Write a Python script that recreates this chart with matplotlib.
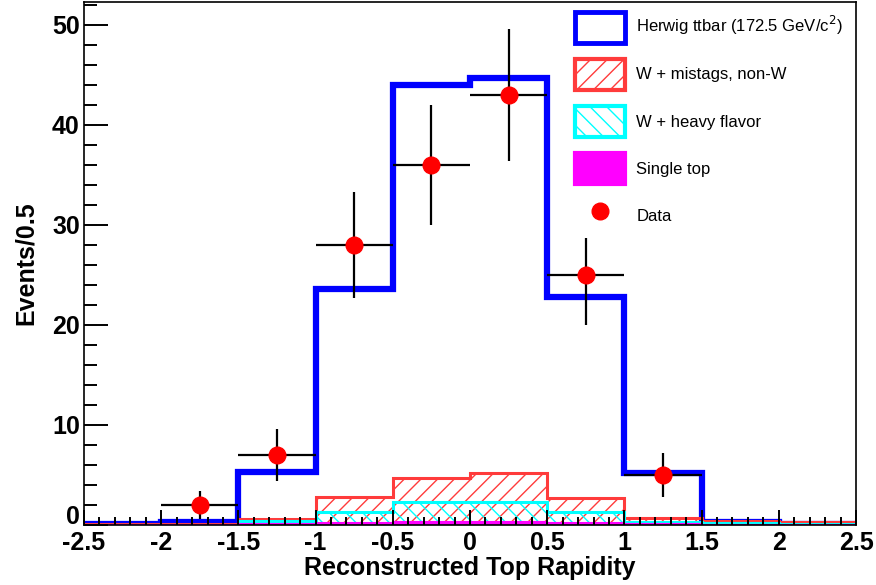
import matplotlib
matplotlib.use("Agg")
import matplotlib.pyplot as plt
import matplotlib.transforms as mtransforms
import numpy as np
from matplotlib.ticker import MultipleLocator
from matplotlib.patches import Patch
from matplotlib.lines import Line2D

plt.rcParams['font.family'] = ['Liberation Sans', 'DejaVu Sans']
plt.rcParams['hatch.linewidth'] = 1.0

# bin edges for reconstructed top rapidity
edges = np.arange(-2.5, 2.51, 0.5)

# stacked totals (Events/0.5)
total_ttbar = [0.1, 0.3, 5.3, 23.6, 44.0, 44.7, 22.8, 5.2, 0.3, 0.1]
mistags_stack = [0.1, 0.1, 0.6, 2.8, 4.7, 5.2, 2.7, 0.7, 0.4, 0.3]
heavyflav_stack = [0.05, 0.05, 0.4, 1.3, 2.3, 2.3, 1.3, 0.35, 0.2, 0.1]
singletop = [0.0, 0.0, 0.15, 0.25, 0.3, 0.3, 0.25, 0.15, 0.05, 0.0]

data_x = [-1.75, -1.25, -0.75, -0.25, 0.25, 0.75, 1.25]
data_y = [2, 7, 28, 36, 43, 25, 5]

xtick_labels = ['-2.5', '-2', '-1.5', '-1', '-0.5', '0', '0.5', '1', '1.5', '2', '2.5']
yticks = [0, 10, 20, 30, 40, 50]
labels = ["Herwig ttbar (172.5 GeV/c$^{2}$)", "W + mistags, non-W",
          "W + heavy flavor", "Single top", "Data"]

blue = "#0000ff"
red = "#ff3b3b"
cyan = "#00ffff"
magenta = "#ff00ff"

fig = plt.figure(figsize=(8.76, 5.85), dpi=100)
ax = fig.add_axes([84/876, 1-525/585, (856-84)/876, (525-2)/585])

width = np.diff(edges)

# ttbar total outline
ax.stairs(total_ttbar, edges, color=blue, linewidth=4.5, baseline=0)

# W + mistags (hatched)
ax.bar(edges[:-1], mistags_stack, width=width, align='edge', fill=False,
       hatch='//', edgecolor=red, linewidth=0)
ax.stairs(mistags_stack, edges, color=red, linewidth=2.2, baseline=0)

# W + heavy flavor (hatched the other way)
ax.bar(edges[:-1], heavyflav_stack, width=width, align='edge', fill=False,
       hatch='\\\\', edgecolor=cyan, linewidth=0)
ax.stairs(heavyflav_stack, edges, color=cyan, linewidth=2.2, baseline=0)

# single top (solid)
ax.stairs(singletop, edges, fill=True, color=magenta, linewidth=0)
ax.stairs(singletop, edges, color=magenta, linewidth=1.5, baseline=0)

# data with poisson errors
err = np.sqrt(data_y)
ax.errorbar(data_x, data_y, yerr=err, xerr=0.25, fmt='none', ecolor='black',
            elinewidth=1.6, capsize=0, zorder=5)
ax.plot(data_x, data_y, 'o', color='red', markersize=12, zorder=6)

ax.set_xlim(-2.5, 2.5)
ax.set_ylim(0, 52.3)

ax.xaxis.set_minor_locator(MultipleLocator(0.1))
ax.yaxis.set_minor_locator(MultipleLocator(2))
ax.set_xticks(edges)
ax.set_xticklabels(xtick_labels)
ax.set_yticks(yticks)
ax.set_yticklabels([str(v) for v in yticks])

ax.tick_params(axis='x', which='major', direction='in', length=11, width=1.4,
               labelsize=18, pad=4, top=False)
ax.tick_params(axis='x', which='minor', direction='in', length=5.5, width=1.4, top=False)
ax.tick_params(axis='y', which='major', direction='in', length=17, width=1.4,
               labelsize=18, pad=3, right=False)
ax.tick_params(axis='y', which='minor', direction='in', length=9, width=1.4, right=False)
for lab in ax.get_xticklabels() + ax.get_yticklabels():
    lab.set_fontweight('bold')

# lift the "0" label a little so it sits above the x labels
zero_lab = ax.yaxis.get_major_ticks()[0].label1
zero_lab.set_verticalalignment('bottom')
zero_lab.set_transform(zero_lab.get_transform() +
                       mtransforms.ScaledTranslation(0, -4/100, fig.dpi_scale_trans))

for s in ax.spines.values():
    s.set_linewidth(1.2)

ax.set_xlabel("Reconstructed Top Rapidity", fontsize=18, fontweight='bold', labelpad=1)
ax.set_ylabel("Events/0.5", fontsize=18, fontweight='bold', labelpad=10)

# legend proxies
handles = [
    Patch(facecolor='white', edgecolor=blue, linewidth=3.5),
    Patch(facecolor='white', edgecolor=red, linewidth=3, hatch='//'),
    Patch(facecolor='white', edgecolor=cyan, linewidth=3, hatch='\\\\'),
    Patch(facecolor=magenta, edgecolor=magenta, linewidth=3),
    Line2D([], [], marker='o', color='red', linestyle='none', markersize=12),
]
leg = ax.legend(handles, labels, loc='upper left',
                bbox_to_anchor=(568/876, 1 - 5/585), bbox_transform=fig.transFigure,
                fontsize=12, frameon=True, fancybox=False, framealpha=1,
                edgecolor='none', facecolor='white', handlelength=3.0,
                handleheight=2.5, labelspacing=0.96, handletextpad=0.7,
                borderpad=0.4, borderaxespad=0)
leg.set_zorder(10)

fig.savefig("out.png", dpi=100)
